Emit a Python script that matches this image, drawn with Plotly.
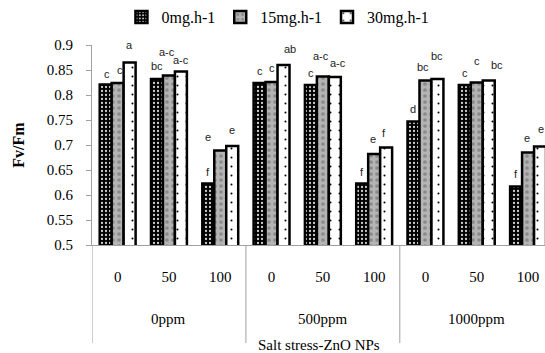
import plotly.graph_objects as go

salt_levels = ["0ppm", "500ppm", "1000ppm"]
zno_levels = ["0", "50", "100"]
series_names = ["0mg.h-1", "15mg.h-1", "30mg.h-1"]

fvfm_0mg = [0.821, 0.832, 0.623, 0.824, 0.820, 0.623, 0.747, 0.820, 0.617]
fvfm_15mg = [0.824, 0.839, 0.689, 0.826, 0.837, 0.682, 0.829, 0.825, 0.685]
fvfm_30mg = [0.865, 0.847, 0.698, 0.860, 0.836, 0.695, 0.832, 0.829, 0.697]

letters_0mg = ["c", "bc", "f", "c", "c", "f", "d", "c", "f"]
letters_15mg = ["c", "a-c", "e", "c", "a-c", "e", "bc", "c", "e"]
letters_30mg = ["a", "a-c", "e", "ab", "a-c", "f", "bc", "bc", "e"]

y_ticks = [0.5, 0.55, 0.6, 0.65, 0.7, 0.75, 0.8, 0.85, 0.9]

# label pixel offsets (x, y) per series, relative to bar top centre
off_0mg = [(1, 11), (0, 13), (0, 12), (0, 12), (0, 12), (0, 12), (0, 13), (0, 12), (0, 13)]
off_15mg = [(2, 13), (-2, 24), (-12, 14), (0, 14), (-2, 21), (-1, 15), (-2, 14), (0, 22), (-1, 15)]
off_30mg = [(0, 18), (0, 12), (0, 16), (6, 16), (3, 14), (-2, 15), (0, 23), (8, 16), (1, 18)]

n_cat = len(salt_levels) * len(zno_levels)
xpos = list(range(n_cat))
ticktext = zno_levels * len(salt_levels)

series = [fvfm_0mg, fvfm_15mg, fvfm_30mg]
letters = [letters_0mg, letters_15mg, letters_30mg]
offsets = [off_0mg, off_15mg, off_30mg]

patterns = [
    dict(shape=".", bgcolor="#000000", fgcolor="#d0d0d0", size=4, solidity=0.25, fillmode="replace"),
    dict(shape=".", bgcolor="#b4b4b4", fgcolor="#8a8a8a", size=6, solidity=0.3, fillmode="replace"),
    dict(shape=".", bgcolor="#ffffff", fgcolor="#000000", size=9, solidity=0.04, fillmode="replace"),
]
colors = ["#000000", "#b4b4b4", "#ffffff"]

fig = go.Figure()
for name, vals, pat, col in zip(series_names, series, patterns, colors):
    fig.add_trace(go.Bar(
        x=xpos, y=vals, name=name,
        marker=dict(color=col, pattern=pat, line=dict(color="#000000", width=2.5)),
    ))

bar_w = 0.7 / 3
for s in range(3):
    for i in range(n_cat):
        dx = (s - 1) * bar_w
        fig.add_annotation(
            x=xpos[i] + dx, y=series[s][i], xref="x", yref="y",
            text=letters[s][i], showarrow=False,
            xshift=offsets[s][i][0], yshift=offsets[s][i][1],
            font=dict(family="Liberation Sans", size=11, color="#222222"),
            xanchor="center", yanchor="middle",
        )

# group labels
for g, lab in enumerate(salt_levels):
    fig.add_annotation(
        x=g * 3 + 1, y=-0.37, xref="x", yref="paper", text=lab, showarrow=False,
        font=dict(family="Liberation Serif", size=15, color="#000000"),
        xanchor="center", yanchor="middle",
    )
# group dividers
for g in range(len(salt_levels)):
    fig.add_shape(type="line", xref="x", yref="paper",
                  x0=g * 3 - 0.5, x1=g * 3 - 0.5, y0=0, y1=-0.49,
                  line=dict(color="#a0a0a0", width=1))

fig.add_annotation(
    x=0.5, y=-0.5, xref="paper", yref="paper", text="Salt stress-ZnO NPs",
    showarrow=False, font=dict(family="Liberation Serif", size=15, color="#000000"),
    xanchor="center", yanchor="middle",
)

fig.update_layout(
    width=545, height=353,
    margin=dict(l=92, r=0, t=45, b=108, autoexpand=False),
    paper_bgcolor="#ffffff", plot_bgcolor="#ffffff",
    barmode="group", bargap=0.3, bargroupgap=0,
    showlegend=True,
    legend=dict(orientation="h", xref="container", yref="container",
                x=0.51, xanchor="center", y=1.0, yanchor="top",
                font=dict(family="Liberation Serif", size=16, color="#000000"),
                traceorder="normal", itemwidth=30),
    xaxis=dict(range=[-0.5, 8.33], tickmode="array", tickvals=xpos, ticktext=ticktext,
               showline=True, linecolor="#a0a0a0", linewidth=1, ticks="",
               showgrid=False, zeroline=False, ticklabelstandoff=18, automargin=False,
               tickfont=dict(family="Liberation Serif", size=15, color="#000000")),
    yaxis=dict(range=[0.5, 0.9], tickmode="array", tickvals=y_ticks,
               ticktext=[f"{v:g}" for v in y_ticks],
               showline=True, linecolor="#a0a0a0", linewidth=1,
               ticks="outside", ticklen=5, tickcolor="#a0a0a0",
               showgrid=False, zeroline=False, ticklabelstandoff=10, automargin=False,
               tickfont=dict(family="Liberation Serif", size=15, color="#000000"),
               title=dict(text="<b>Fv/Fm</b>", standoff=18,
                          font=dict(family="Liberation Serif", size=16, color="#000000"))),
)

fig.write_html("out.html", config={"displayModeBar": False},
               post_script="document.body.style.margin='0';")
